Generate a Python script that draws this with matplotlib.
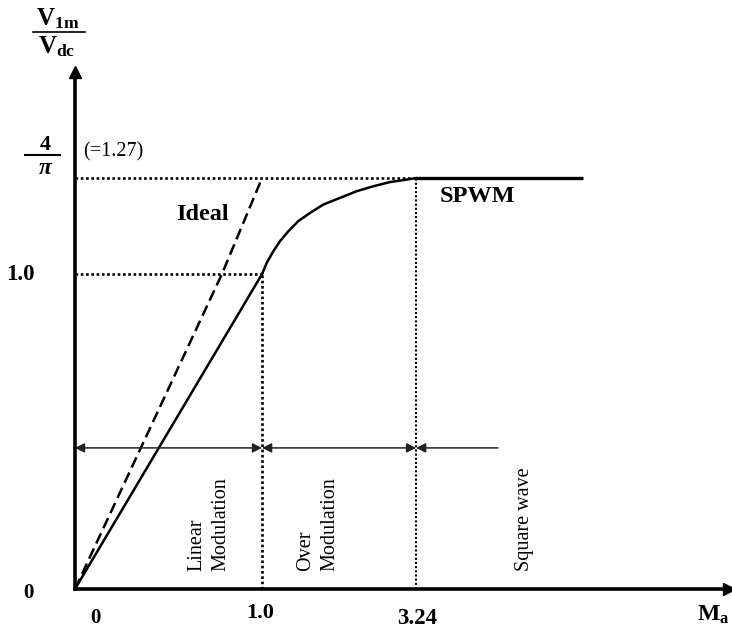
import numpy as np
import matplotlib
matplotlib.use("Agg")
import matplotlib.pyplot as plt
from matplotlib.lines import Line2D

plt.rcParams['font.family'] = ['Liberation Serif', 'DejaVu Serif']
plt.rcParams['mathtext.fontset'] = 'custom'
plt.rcParams['mathtext.rm'] = 'Liberation Serif'
plt.rcParams['mathtext.it'] = 'Liberation Serif:italic'
plt.rcParams['mathtext.bf'] = 'Liberation Serif:bold'

FOUR_PI = 4 / np.pi

# SPWM output: linear region, over-modulation knee, square-wave limit
m_linear = [0.0, 1.0]
v_linear = [0.0, 1.0]
m_over = [1.0, 1.068, 1.164, 1.262, 1.383, 1.528, 1.698, 1.892, 2.135,
          2.378, 2.619, 2.862, 3.105, 3.24]
v_over = [1.0, 1.032, 1.065, 1.094, 1.122, 1.151, 1.174, 1.198, 1.217,
          1.236, 1.250, 1.262, 1.269, FOUR_PI]
m_square = [3.24, 5.67]
v_square = [FOUR_PI, FOUR_PI]

# ideal (linear) characteristic
m_ideal = [0.0, np.pi / 4, 1.0]
v_ideal = [0.0, 1.0, FOUR_PI]

# modulation regions
region_edges = [0.0, 1.0, 3.24, 4.43]
region_names = ['Linear\nModulation', 'Over\nModulation', 'Square wave']
region_row = 0.448

# schematic (piecewise) axes, so the regions read clearly
xk = [0, 1.0, 3.24, 10.0]
xu = [0, 187, 341, 341 + 6.76 * 68.75]
yk = [0, 1.0, FOUR_PI, 2.0]
yu = [0, 315, 411, 411 + (2.0 - FOUR_PI) * 351.6]

W, H = 732, 634
fig = plt.figure(figsize=(W / 100, H / 100), dpi=100)
ax = fig.add_axes([75 / W, (H - 589) / H, (729 - 75) / W, (589 - 72) / H])
ax.set_xscale('function', functions=(lambda x: np.interp(x, xk, xu),
                                     lambda u: np.interp(u, xu, xk)))
ax.set_yscale('function', functions=(lambda y: np.interp(y, yk, yu),
                                     lambda u: np.interp(u, yu, yk)))
ax.set_xlim(0, 7.79)
ax.set_ylim(0, 1.575)

for s in ['top', 'right']:
    ax.spines[s].set_visible(False)
for s in ['left', 'bottom']:
    ax.spines[s].set_linewidth(2.6)
ax.set_xticks([])
ax.set_yticks([])
ax.plot(1, 0, '>k', ms=8, transform=ax.get_yaxis_transform(), clip_on=False)
ax.plot(0, 1, '^k', ms=8, transform=ax.get_xaxis_transform(), clip_on=False)

# guide lines
dot = dict(color='k', linestyle=(0, (1, 1)), lw=1.9)
ax.plot([0, 3.24], [FOUR_PI, FOUR_PI], **dot)
ax.plot([0, 1.0], [1.0, 1.0], **dot)
ax.plot([1.0, 1.0], [0, 1.0], **dot)
ax.plot([3.24, 3.24], [0, FOUR_PI], color='k', linestyle=(0, (1, 1)), lw=1.5)

# curves
ax.plot(m_ideal, v_ideal, color='k', lw=1.8, dashes=(4.5, 2.2))
ax.plot(m_linear, v_linear, color='k', lw=1.8)
ax.plot(m_over, v_over, color='k', lw=1.8, solid_joinstyle='round')
ax.plot(m_square, v_square, color='k', lw=2.4, solid_capstyle='butt')

# region arrows
arr = dict(color='#222222', lw=1.1, mutation_scale=14, shrinkA=0, shrinkB=0)
ax.annotate('', xy=(region_edges[1], region_row), xytext=(region_edges[0], region_row),
            arrowprops=dict(arrowstyle='<|-|>', **arr))
ax.annotate('', xy=(region_edges[2], region_row), xytext=(region_edges[1], region_row),
            arrowprops=dict(arrowstyle='<|-|>', **arr))
ax.annotate('', xy=(region_edges[2], region_row), xytext=(region_edges[3], region_row),
            arrowprops=dict(arrowstyle='-|>', **arr))


def px(x, y):
    return x / W, 1 - y / H


bold = dict(fontweight='bold', ha='center', va='center')

for xp, name in zip([209, 318, 525], region_names):
    fig.text(*px(xp, 571), name, rotation=90, ha='center', va='bottom',
             multialignment='left', fontsize=14.5, linespacing=1.4)

fig.text(*px(202, 214), 'Ideal', fontsize=17.5, **bold)
fig.text(*px(478, 196), 'SPWM', fontsize=17.5, **bold)
fig.text(*px(113, 152), '(=1.27)', fontsize=14.5, ha='center', va='center')

# y-axis label as a stacked fraction
fig.text(*px(58, 19), r'V$_{\mathbf{1m}}$', fontsize=18, **bold)
fig.text(*px(57, 47), r'V$_{\mathbf{dc}}$', fontsize=18, **bold)
fig.add_artist(Line2D([33 / W, 85 / W], [1 - 32 / H, 1 - 32 / H], color='k', lw=1.2))

# 4/pi level
fig.text(*px(45, 145), '4', fontsize=16, **bold)
fig.text(*px(45, 169), 'π', fontsize=17, fontstyle='italic', **bold)
fig.add_artist(Line2D([25 / W, 60 / W], [1 - 155 / H, 1 - 155 / H], color='k', lw=1.5))

fig.text(*px(20, 274), '1.0', fontsize=16.5, **bold)
fig.text(*px(28, 593), '0', fontsize=15, **bold)
fig.text(*px(95, 618), '0', fontsize=15, **bold)
fig.text(*px(260, 613), '1.0', fontsize=16, **bold)
fig.text(*px(417, 619), '3.24', fontsize=16.5, **bold)
fig.text(*px(713, 615), r'M$_{\mathbf{a}}$', fontsize=17, **bold)

fig.savefig('out.png', dpi=100)
